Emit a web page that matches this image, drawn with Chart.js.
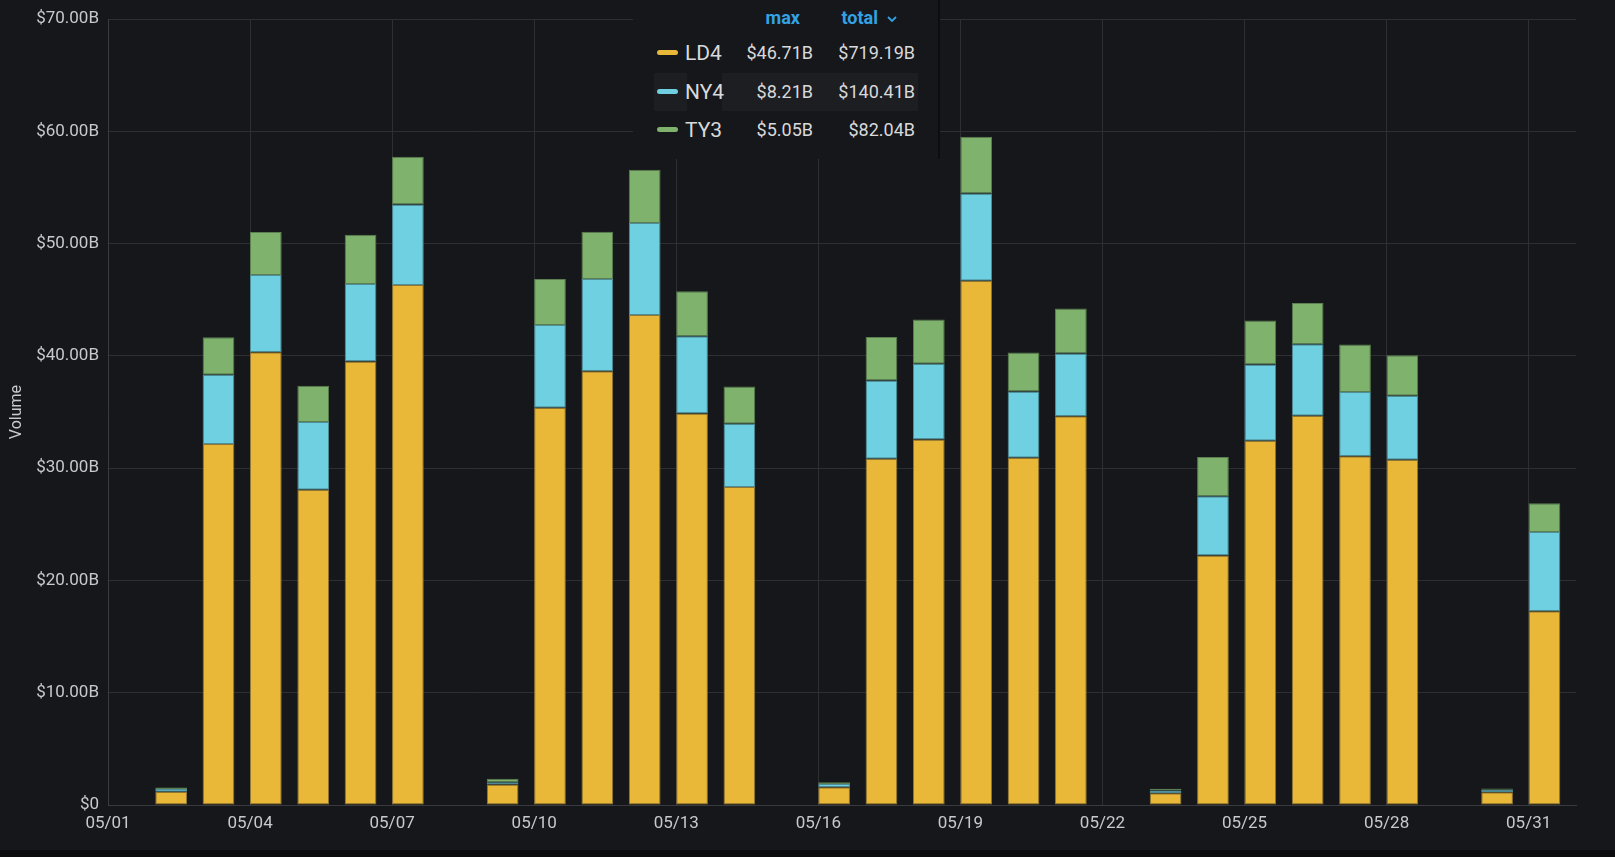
<!DOCTYPE html>
<html>
<head>
<meta charset="utf-8">
<script src="https://cdn.jsdelivr.net/npm/chart.js@4/dist/chart.umd.min.js"></script>
<style>
  html, body { margin: 0; padding: 0; background: #0b0c0e; }
  #panel { position: relative; width: 1615px; height: 850px; background: #16171a; }
  #legend {
    position: absolute; left: 633px; top: 0; width: 307px; height: 159px;
    box-sizing: border-box; background: #16171a; border-right: 2px solid #0c0d0f;
    font-family: Roboto, sans-serif; color: #d8d9da;
  }
  .row { position: absolute; left: 0; width: 305px; height: 38px; line-height: 38px; }
  .hl { position: absolute; top: 0; height: 38px; background: #1d1e22; }
  .swatch { position: absolute; left: 24px; top: 16px; width: 21px; height: 5px; border-radius: 3px; }
  .name { position: absolute; left: 52px; font-size: 21px; }
  .max { position: absolute; left: 87px; width: 93px; text-align: right; font-size: 18px; }
  .total { position: absolute; left: 180px; width: 102px; text-align: right; font-size: 18px; }
  .head { color: #33a2e5; font-weight: bold; font-size: 18px; }
  .head.max { padding-right: 13px; box-sizing: border-box; }
  .head.total { padding-right: 18px; box-sizing: border-box; }
  .head svg { margin-left: 9px; vertical-align: middle; }
</style>
</head>
<body>
<div id="panel">
  <canvas id="volumeChart"></canvas>
  <div id="legend"></div>
</div>
<script>
// series
var SERIES = ['LD4', 'NY4', 'TY3'];
var COLORS = ['#EAB839', '#6ED0E0', '#7EB26D'];
var BORDERS = ['#8f7736', '#4f8e99', '#5b7f50'];

// day of May for each bar (days without data are left out)
var DAYS = [2, 3, 4, 5, 6, 7, 9, 10, 11, 12, 13, 14, 16, 17, 18, 19, 20, 21, 23, 24, 25, 26, 27, 28, 30, 31];
var SAMPLE_HOUR = 8;

// volumes in billions
var LD4 = [1.17, 32.15, 40.34, 28.09, 39.51, 46.32, 1.82, 35.38, 38.65, 43.66, 34.88, 28.33, 1.58,
           30.85, 32.57, 46.71, 30.94, 34.64, 1.05, 22.22, 32.45, 34.67, 31.06, 30.76, 1.14, 17.27];
var NY4 = [0.26, 6.17, 6.87, 6.02, 6.90, 7.18, 0.21, 7.39, 8.21, 8.18, 6.88, 5.63, 0.30,
           6.97, 6.73, 7.77, 5.90, 5.58, 0.25, 5.28, 6.79, 6.38, 5.72, 5.69, 0.22, 7.06];
var TY3 = [0.13, 3.35, 3.83, 3.23, 4.39, 4.24, 0.30, 4.09, 4.21, 4.74, 4.00, 3.32, 0.15,
           3.88, 3.94, 5.05, 3.47, 4.00, 0.15, 3.50, 3.92, 3.67, 4.24, 3.62, 0.11, 2.55];

// legend stats as shown in the panel
var LEGEND_MAX = ['$46.71B', '$8.21B', '$5.05B'];
var LEGEND_TOTAL = ['$719.19B', '$140.41B', '$82.04B'];

var TICK_DAYS = [1, 4, 7, 10, 13, 16, 19, 22, 25, 28, 31];
var Y_TICKS = [0, 10, 20, 30, 40, 50, 60, 70];

var textColor = '#c7c9cd';
var gridColor = '#2e2f33';

function toPoints(values) {
  return DAYS.map(function (d, i) { return { x: d + SAMPLE_HOUR / 24, y: values[i] }; });
}

var seriesValues = [LD4, NY4, TY3];
var datasets = SERIES.map(function (name, i) {
  return {
    label: name,
    data: toPoints(seriesValues[i]),
    backgroundColor: COLORS[i],
    borderColor: BORDERS[i],
    borderWidth: 1,
    borderSkipped: false,
    barPercentage: 1,
    categoryPercentage: 0.67
  };
});

var ctx = document.getElementById('volumeChart').getContext('2d');
var chart = new Chart(ctx, {
  type: 'bar',
  data: { datasets: datasets },
  options: {
    responsive: true,
    maintainAspectRatio: false,
    animation: false,
    layout: { padding: { top: 17, right: 39, left: 0, bottom: 0 } },
    plugins: {
      legend: { display: false },
      tooltip: { enabled: false }
    },
    scales: {
      x: {
        type: 'linear',
        stacked: true,
        offset: false,
        min: 1,
        max: 32,
        afterBuildTicks: function (scale) {
          scale.ticks = TICK_DAYS.map(function (v) { return { value: v }; });
        },
        afterFit: function (scale) { scale.height = 45; },
        ticks: {
          autoSkip: false,
          maxRotation: 0,
          padding: 9,
          color: textColor,
          font: { family: 'Roboto', size: 17 },
          callback: function (v) { return '05/' + String(v).padStart(2, '0'); }
        },
        grid: { color: gridColor, drawTicks: false, offset: false },
        border: { color: '#3a3b3f' }
      },
      y: {
        stacked: true,
        min: 0,
        max: 70,
        afterBuildTicks: function (scale) {
          scale.ticks = Y_TICKS.map(function (v) { return { value: v }; });
        },
        afterFit: function (scale) { scale.width = 108; },
        ticks: {
          padding: 9,
          color: textColor,
          font: { family: 'Roboto', size: 17 },
          callback: function (v) { return v === 0 ? '$0' : '$' + v.toFixed(2) + 'B'; }
        },
        grid: { color: gridColor, drawTicks: false },
        border: { color: '#3a3b3f' },
        title: {
          display: true,
          text: 'Volume',
          color: textColor,
          font: { family: 'Roboto', size: 16 },
          padding: { top: 7, bottom: 0 }
        }
      }
    }
  }
});

// table legend
var legend = document.getElementById('legend');
var html = '<div class="row" style="top:0;height:36px;line-height:36px">' +
  '<span class="max head">max</span>' +
  '<span class="total head">total<svg width="10" height="7" viewBox="0 0 10 7"><polyline points="1,1 5,5 9,1" fill="none" stroke="#33a2e5" stroke-width="1.8"/></svg></span>' +
  '</div>';
var rowTops = [34, 72.5, 111];
SERIES.forEach(function (name, i) {
  var hl = i === 1 ? '<div class="hl" style="left:21px;width:33px"></div><div class="hl" style="left:89px;width:196px"></div>' : '';
  html += '<div class="row" style="top:' + rowTops[i] + 'px">' + hl +
    '<span class="swatch" style="background:' + COLORS[i] + '"></span>' +
    '<span class="name">' + name + '</span>' +
    '<span class="max">' + LEGEND_MAX[i] + '</span>' +
    '<span class="total">' + LEGEND_TOTAL[i] + '</span>' +
    '</div>';
});
legend.innerHTML = html;
</script>
</body>
</html>
